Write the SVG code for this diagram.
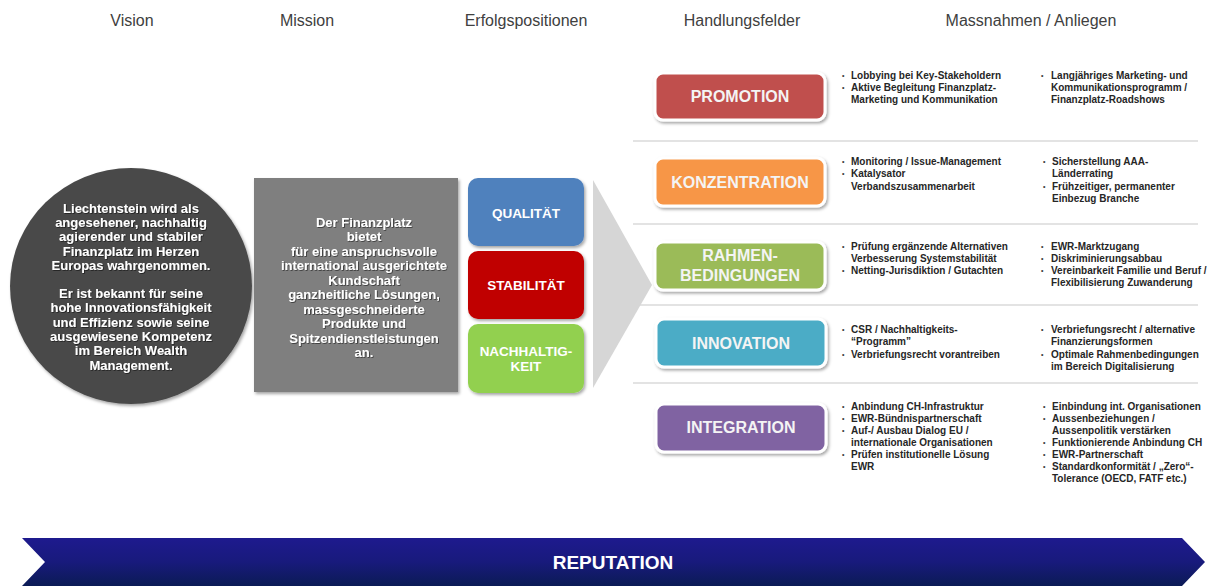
<svg xmlns="http://www.w3.org/2000/svg" width="1217" height="588" viewBox="0 0 1217 588">
  <style>
    .hd { font-family: "Liberation Sans", Arial, sans-serif; font-size: 16px; fill: #404040; text-anchor: middle; }
    .wt { font-family: "Liberation Sans", Arial, sans-serif; font-weight: bold; font-size: 13px; fill: #ffffff; text-anchor: middle; }
    .ep { font-family: "Liberation Sans", Arial, sans-serif; font-weight: bold; font-size: 13.5px; fill: #ffffff; text-anchor: middle; }
    .bt { font-family: "Liberation Sans", Arial, sans-serif; font-weight: bold; font-size: 16px; fill: #f4f4f4; text-anchor: middle; }
    .m  { font-family: "Liberation Sans", Arial, sans-serif; font-weight: bold; font-size: 10px; fill: #262626; }
    .b  { font-family: "Liberation Sans", Arial, sans-serif; font-weight: bold; font-size: 7px; fill: #404040; }
    .sep { stroke: #dadada; stroke-width: 1.5; fill: none; }
    .btn { stroke: #ffffff; stroke-width: 3; filter: url(#sh); }
    .rep { font-family: "Liberation Sans", Arial, sans-serif; font-weight: bold; font-size: 19px; fill: #ffffff; text-anchor: middle; }
  </style>
  <defs>
    <filter id="sh" x="-10%" y="-15%" width="125%" height="145%">
      <feDropShadow dx="1.5" dy="2" stdDeviation="1.6" flood-color="#000000" flood-opacity="0.35"/>
    </filter>
    <filter id="ts" x="-5%" y="-20%" width="110%" height="140%">
      <feDropShadow dx="0.8" dy="0.8" stdDeviation="0.5" flood-color="#000000" flood-opacity="0.6"/>
    </filter>
    <linearGradient id="navy" x1="0" y1="0" x2="0" y2="1">
      <stop offset="0" stop-color="#1e1a8e"/>
      <stop offset="0.5" stop-color="#181a7c"/>
      <stop offset="1" stop-color="#0b1b55"/>
    </linearGradient>
  </defs>

  <rect x="0" y="0" width="1217" height="588" fill="#ffffff"/>

  <!-- column headings -->
  <g id="headings">
    <text class="hd" x="132" y="26">Vision</text>
    <text class="hd" x="307" y="26">Mission</text>
    <text class="hd" x="526" y="26">Erfolgspositionen</text>
    <text class="hd" x="742" y="26">Handlungsfelder</text>
    <text class="hd" x="1031" y="26">Massnahmen / Anliegen</text>
  </g>

  <!-- row separators and the grey pointer -->
  <g id="connectors">
    <line class="sep" x1="633" y1="141" x2="1198" y2="141"/>
    <line class="sep" x1="633" y1="224" x2="1198" y2="224"/>
    <line class="sep" x1="633" y1="305" x2="1198" y2="305"/>
    <line class="sep" x1="633" y1="383" x2="1198" y2="383"/>
    <polygon points="593,180 652,285 593,388" fill="#d6d6d6"/>
  </g>

  <!-- vision -->
  <g id="vision">
    <ellipse cx="131" cy="286" rx="121" ry="118" fill="#4a4a4a" filter="url(#sh)"/>
    <g class="wt" filter="url(#ts)">
      <text x="131" y="213">Liechtenstein wird als</text>
      <text x="131" y="227">angesehener, nachhaltig</text>
      <text x="131" y="241">agierender und stabiler</text>
      <text x="131" y="256">Finanzplatz im Herzen</text>
      <text x="131" y="270">Europas wahrgenommen.</text>
      <text x="131" y="298">Er ist  bekannt für seine</text>
      <text x="131" y="312">hohe Innovationsfähigkeit</text>
      <text x="131" y="327">und Effizienz sowie seine</text>
      <text x="131" y="341">ausgewiesene Kompetenz</text>
      <text x="131" y="355">im Bereich Wealth</text>
      <text x="131" y="370">Management.</text>
    </g>
  </g>

  <!-- mission -->
  <g id="mission">
    <rect x="254" y="178" width="204" height="214" fill="#7f7f7f" filter="url(#sh)"/>
    <g class="wt" filter="url(#ts)">
      <text x="364" y="227">Der Finanzplatz</text>
      <text x="364" y="241">bietet</text>
      <text x="364" y="256">für eine anspruchsvolle</text>
      <text x="364" y="270">international ausgerichtete</text>
      <text x="364" y="285">Kundschaft</text>
      <text x="364" y="299">ganzheitliche Lösungen,</text>
      <text x="364" y="314">massgeschneiderte</text>
      <text x="364" y="328">Produkte und</text>
      <text x="364" y="343">Spitzendienstleistungen</text>
      <text x="364" y="357">an.</text>
    </g>
  </g>

  <!-- success factors -->
  <g id="qualitaet">
    <rect x="468" y="178" width="116" height="68" rx="10" fill="#4f81bd" filter="url(#sh)"/>
    <text class="ep" x="526" y="217.5">QUALITÄT</text>
  </g>
  <g id="stabilitaet">
    <rect x="468" y="251" width="116" height="68" rx="10" fill="#c00000" filter="url(#sh)"/>
    <text class="ep" x="526" y="290">STABILITÄT</text>
  </g>
  <g id="nachhaltigkeit">
    <rect x="468" y="324" width="116" height="69" rx="10" fill="#92d050" filter="url(#sh)"/>
    <text class="ep" x="526" y="356">NACHHALTIG-</text>
    <text class="ep" x="526" y="371">KEIT</text>
  </g>

  <!-- fields of action -->
  <g id="promotion">
    <rect class="btn" x="655" y="73" width="170" height="47" rx="8" fill="#c0504d"/>
    <text class="bt" x="740" y="102">PROMOTION</text>
  </g>
  <g id="konzentration">
    <rect class="btn" x="655" y="158" width="170" height="48" rx="8" fill="#f79646"/>
    <text class="bt" x="740" y="188">KONZENTRATION</text>
  </g>
  <g id="rahmenbedingungen">
    <rect class="btn" x="655" y="242" width="170" height="48" rx="8" fill="#9bbb59"/>
    <text class="bt" x="740" y="261">RAHMEN-</text>
    <text class="bt" x="740" y="281">BEDINGUNGEN</text>
  </g>
  <g id="innovation">
    <rect class="btn" x="656" y="319" width="170" height="48" rx="8" fill="#4bacc6"/>
    <text class="bt" x="741" y="349">INNOVATION</text>
  </g>
  <g id="integration">
    <rect class="btn" x="656" y="404" width="170" height="48" rx="8" fill="#8064a2"/>
    <text class="bt" x="741" y="433">INTEGRATION</text>
  </g>

  <!-- measures: promotion -->
  <g id="massnahmen-promotion">
    <text class="b" x="842" y="78">•</text>
    <text class="m" x="851" y="79">Lobbying bei Key-Stakeholdern</text>
    <text class="b" x="842" y="90">•</text>
    <text class="m" x="851" y="91">Aktive Begleitung Finanzplatz-</text>
    <text class="m" x="851" y="103">Marketing und Kommunikation</text>
    <text class="b" x="1041" y="78">•</text>
    <text class="m" x="1051" y="79">Langjähriges Marketing- und</text>
    <text class="m" x="1051" y="91">Kommunikationsprogramm /</text>
    <text class="m" x="1051" y="103">Finanzplatz-Roadshows</text>
  </g>

  <!-- measures: konzentration -->
  <g id="massnahmen-konzentration">
    <text class="b" x="842" y="164">•</text>
    <text class="m" x="851" y="165">Monitoring / Issue-Management</text>
    <text class="b" x="842" y="176">•</text>
    <text class="m" x="851" y="177">Katalysator</text>
    <text class="m" x="851" y="190">Verbandszusammenarbeit</text>
    <text class="b" x="1043" y="164">•</text>
    <text class="m" x="1052" y="165">Sicherstellung AAA-</text>
    <text class="m" x="1052" y="177">Länderrating</text>
    <text class="b" x="1043" y="189">•</text>
    <text class="m" x="1052" y="190">Frühzeitiger, permanenter</text>
    <text class="m" x="1052" y="202">Einbezug Branche</text>
  </g>

  <!-- measures: rahmenbedingungen -->
  <g id="massnahmen-rahmen">
    <text class="b" x="842" y="249">•</text>
    <text class="m" x="851" y="250">Prüfung ergänzende Alternativen</text>
    <text class="m" x="851" y="262">Verbesserung Systemstabilität</text>
    <text class="b" x="842" y="273">•</text>
    <text class="m" x="851" y="274">Netting-Jurisdiktion / Gutachten</text>
    <text class="b" x="1041" y="249">•</text>
    <text class="m" x="1051" y="250">EWR-Marktzugang</text>
    <text class="b" x="1041" y="261">•</text>
    <text class="m" x="1051" y="262">Diskriminierungsabbau</text>
    <text class="b" x="1041" y="273">•</text>
    <text class="m" x="1051" y="274">Vereinbarkeit Familie und Beruf /</text>
    <text class="m" x="1051" y="286">Flexibilisierung Zuwanderung</text>
  </g>

  <!-- measures: innovation -->
  <g id="massnahmen-innovation">
    <text class="b" x="842" y="332">•</text>
    <text class="m" x="851" y="333">CSR / Nachhaltigkeits-</text>
    <text class="m" x="851" y="345">“Programm”</text>
    <text class="b" x="842" y="357">•</text>
    <text class="m" x="851" y="358">Verbriefungsrecht  vorantreiben</text>
    <text class="b" x="1041" y="332">•</text>
    <text class="m" x="1051" y="333">Verbriefungsrecht / alternative</text>
    <text class="m" x="1051" y="345">Finanzierungsformen</text>
    <text class="b" x="1041" y="357">•</text>
    <text class="m" x="1051" y="358">Optimale Rahmenbedingungen</text>
    <text class="m" x="1051" y="370">im Bereich Digitalisierung</text>
  </g>

  <!-- measures: integration -->
  <g id="massnahmen-integration">
    <text class="b" x="842" y="409">•</text>
    <text class="m" x="851" y="410">Anbindung CH-Infrastruktur</text>
    <text class="b" x="842" y="421">•</text>
    <text class="m" x="851" y="422">EWR-Bündnispartnerschaft</text>
    <text class="b" x="842" y="433">•</text>
    <text class="m" x="851" y="434">Auf-/ Ausbau Dialog EU /</text>
    <text class="m" x="851" y="446">internationale Organisationen</text>
    <text class="b" x="842" y="457">•</text>
    <text class="m" x="851" y="458">Prüfen institutionelle Lösung</text>
    <text class="m" x="851" y="470">EWR</text>
    <text class="b" x="1043" y="409">•</text>
    <text class="m" x="1052" y="410">Einbindung int. Organisationen</text>
    <text class="b" x="1043" y="421">•</text>
    <text class="m" x="1052" y="422">Aussenbeziehungen /</text>
    <text class="m" x="1052" y="434">Aussenpolitik verstärken</text>
    <text class="b" x="1043" y="445">•</text>
    <text class="m" x="1052" y="446">Funktionierende Anbindung CH</text>
    <text class="b" x="1043" y="457">•</text>
    <text class="m" x="1052" y="458">EWR-Partnerschaft</text>
    <text class="b" x="1043" y="469">•</text>
    <text class="m" x="1052" y="470">Standardkonformität / „Zero“-</text>
    <text class="m" x="1052" y="482">Tolerance (OECD, FATF etc.)</text>
  </g>

  <!-- reputation band -->
  <g id="reputation">
    <polygon points="22,538 1182,538 1205,562 1182,586 22,586 45,562" fill="url(#navy)"/>
    <text class="rep" x="613" y="569">REPUTATION</text>
  </g>
</svg>
